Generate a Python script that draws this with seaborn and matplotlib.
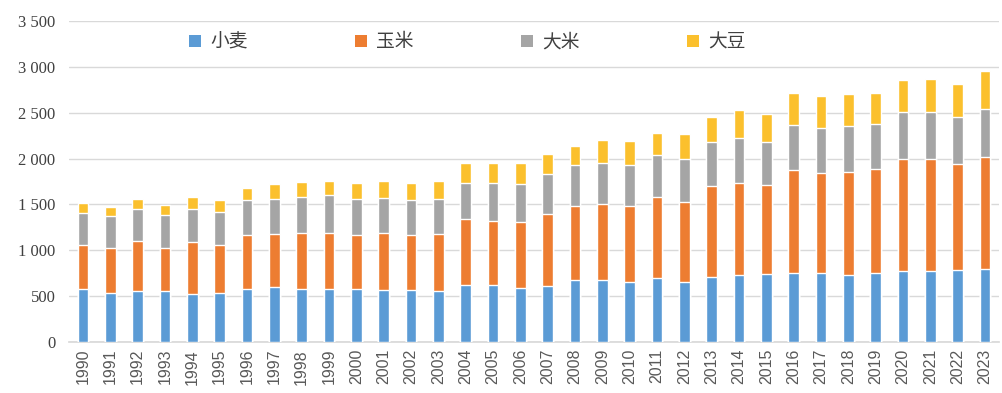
import numpy as np
import pandas as pd
import matplotlib.pyplot as plt
import seaborn as sns
from matplotlib.patches import Patch
from matplotlib.ticker import FuncFormatter

# Données (lecture du graphique)
years = list(range(1990, 2024))
wheat = [583, 535, 553, 553, 524, 535, 583, 597, 583, 583,
         583, 572, 564, 553, 619, 619, 594, 612, 681, 681,
         652, 699, 652, 706, 728, 739, 757, 754, 728, 757,
         776, 776, 783, 794]
corn = [480, 492, 543, 474, 561, 521, 586, 583, 608, 608,
        586, 612, 605, 627, 725, 696, 710, 786, 798, 823,
        827, 881, 874, 995, 1009, 969, 1115, 1089, 1126, 1129,
        1223, 1223, 1158, 1220]
rice = [346, 346, 353, 353, 364, 364, 382, 379, 389, 408,
        390, 389, 375, 379, 389, 418, 422, 434, 447, 444,
        451, 463, 470, 477, 484, 470, 499, 491, 498, 492,
        506, 506, 510, 531]
soy = [106, 102, 110, 117, 131, 124, 128, 167, 164, 156,
       174, 182, 189, 196, 223, 223, 230, 218, 215, 259,
       259, 240, 269, 280, 314, 309, 346, 343, 354, 339,
       354, 365, 360, 405]

series_names = ["小麦", "玉米", "大米", "大豆"]
colors = ["#5B9BD5", "#ED7D31", "#A5A5A5", "#FBC02D"]

sns.set_theme(style="white")
plt.rcParams['font.family'] = ['Noto Sans CJK SC', 'DejaVu Sans']

df = pd.DataFrame({"year": [str(y) for y in years],
                   "小麦": wheat, "玉米": corn, "大米": rice, "大豆": soy})
cum = df[series_names].cumsum(axis=1)

fig = plt.figure(figsize=(10.02, 3.93), dpi=100)
ax = fig.add_axes([69.3 / 1002, 1 - 342 / 393, 929.4 / 1002, 321 / 393])

# barres empilées : on trace les cumuls du plus haut au plus bas
for name, col in reversed(list(zip(series_names, colors))):
    sns.barplot(x=df["year"], y=cum[name], color=col, width=0.4,
                saturation=1, ax=ax, zorder=3)

ax.set_ylim(0, 3500)
ax.set_xlim(-0.5, len(years) - 0.5)
ax.set_yticks(np.arange(0, 3501, 500))
ax.yaxis.set_major_formatter(FuncFormatter(lambda v, p: f"{int(v):,}".replace(",", " ")))
ax.grid(axis="y", color="#D9D9D9", linewidth=1, zorder=0)
ax.set_axisbelow(True)
for s in ["top", "right", "left"]:
    ax.spines[s].set_visible(False)
ax.spines["bottom"].set_color("#D9D9D9")
ax.tick_params(axis="both", length=0)
ax.set_xlabel("")
ax.set_ylabel("")

for lab in ax.get_yticklabels():
    lab.set_fontfamily("Liberation Serif")
    lab.set_fontsize(12)
    lab.set_color("#404040")
ax.tick_params(axis="y", pad=10)
for lab in ax.get_xticklabels():
    lab.set_fontfamily("Liberation Sans")
    lab.set_fontsize(11.5)
    lab.set_color("#595959")
    lab.set_rotation(90)
ax.tick_params(axis="x", pad=5)

handles = [Patch(facecolor=c, edgecolor="none") for c in colors]
fig.legend(handles, series_names, loc="center left", ncol=4,
           bbox_to_anchor=(172 / 1002, 1 - 42 / 393), frameon=False,
           handlelength=0.65, handleheight=0.65, handletextpad=0.5,
           columnspacing=5.7, prop={"family": "Noto Sans CJK SC", "size": 13.5},
           labelcolor="#404040")

fig.savefig("out.png", dpi=100)
